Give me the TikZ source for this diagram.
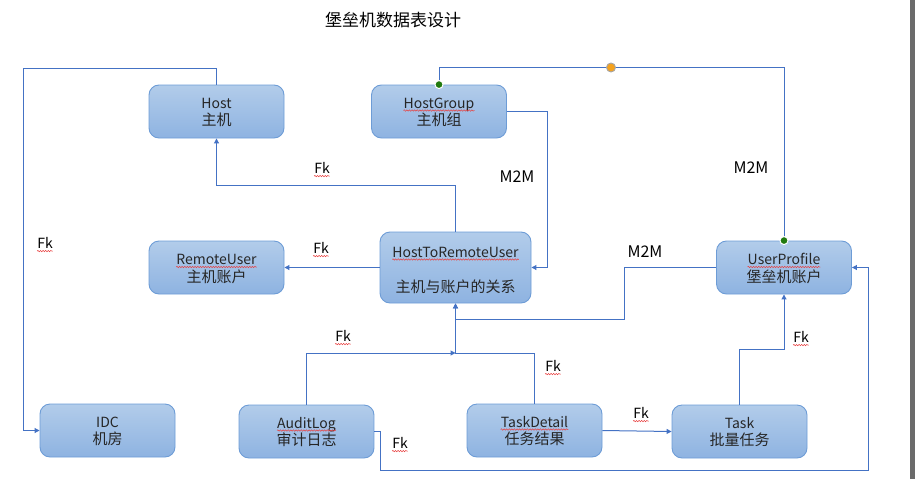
\documentclass[tikz,border=0pt]{standalone}
\usepackage{fontspec}
\setmainfont{Noto Sans CJK SC}
\usetikzlibrary{arrows.meta,decorations.pathmorphing}
\definecolor{linec}{HTML}{4472C4}
\definecolor{boxtop}{HTML}{B2CCEA}
\definecolor{boxbot}{HTML}{8EB3E1}
\definecolor{boxdraw}{HTML}{6D9CD6}
\definecolor{wavec}{HTML}{E84040}
\definecolor{dotg}{HTML}{217A0F}
\definecolor{doto}{HTML}{F4A21E}
\definecolor{graybar}{HTML}{6B6B6B}
\begin{document}
\begin{tikzpicture}[x=1pt,y=-1pt,
 tbl/.style={draw=boxdraw,line width=0.9pt,rounded corners=10pt,top color=boxtop,bottom color=boxbot,minimum width=135pt,minimum height=53pt,inner sep=0pt},
 txt/.style={inner sep=0pt,anchor=base,font=\fontsize{14}{16}\selectfont,text=black!85},
 txtc/.style={txt,font=\fontsize{15}{17}\selectfont},
 lbl/.style={inner sep=0pt,anchor=base,font=\fontsize{14}{16}\selectfont},
 conn/.style={draw=linec,line width=1pt},
 arr/.style={conn,-{Triangle[length=5pt,width=5pt]}},
 wavy/.style={draw=wavec,line width=0.5pt,decorate,decoration={snake,amplitude=0.7pt,segment length=2.6pt}},
]
\path[use as bounding box] (0,0) rectangle (915,479);
\fill[graybar] (910,0) rectangle (915,479);

% title
\node[font=\fontsize{17}{20}\selectfont] (title) at (393,20.5) {堡垒机数据表设计};

% boxes
\node[tbl] (host)  at (216.5,111.5) {};
\node[tbl] (hg)    at (439,111.5) {};
\node[tbl] (ru)    at (216.5,267.5) {};
\node[tbl,minimum width=151pt,minimum height=71pt] (htru) at (455.5,267.5) {};
\node[tbl] (up)    at (784,267.5) {};
\node[tbl] (idc)   at (107.5,430.5) {};
\node[tbl] (audit) at (306.5,431.5) {};
\node[tbl] (td)    at (534.5,430.5) {};
\node[tbl] (task)  at (739.5,431.5) {};

% box texts
\node[txt] (host1) at (216.5,108) {Host};
\node[txtc] (host2) at (216.5,125.5) {主机};
\node[txt] (hg1) at (439,108) {HostGroup};
\node[txtc] (hg2) at (439,125.5) {主机组};
\node[txt] (ru1) at (216.5,264.5) {RemoteUser};
\node[txtc] (ru2) at (216.5,282) {主机账户};
\node[txt] (htru1) at (455.5,257) {HostToRemoteUser};
\node[txtc] (htru2) at (455.5,292) {主机与账户的关系};
\node[txt] (up1) at (784,264.5) {UserProfile};
\node[txtc] (up2) at (784,282) {堡垒机账户};
\node[txt] (idc1) at (107.5,427) {IDC};
\node[txtc] (idc2) at (107.5,444.5) {机房};
\node[txt] (audit1) at (306.5,428) {AuditLog};
\node[txtc] (audit2) at (306.5,445.5) {审计日志};
\node[txt] (td1) at (534.5,427) {TaskDetail};
\node[txtc] (td2) at (534.5,444.5) {任务结果};
\node[txt] (task1) at (739.5,428) {Task};
\node[txtc] (task2) at (739.5,445.5) {批量任务};

% coordinates for bends
\coordinate (k1) at (23,68);
\coordinate (k6) at (455.5,319);
\coordinate (k7) at (455.5,353);
\coordinate (k10) at (868,470);

% connectors
\draw[arr] (host.north) |- (k1) |- (idc.west);
\draw[arr] (htru.north) -- ++(0,-46) -| (host.south);
\draw[arr] (htru.west) -- (ru.east);
\draw[arr] (hg.east) -- ++(41,0) |- (htru.east);
\draw[conn] (hg.north) -- ++(0,-17) -| (up.north);
\draw[arr] (up.west) -- ++(-92,0) |- (k6) -- (htru.south);
\draw[arr] (audit.north) |- (k7);
\draw[arr] (td.north) |- (k7) -- (htru.south);
\draw[arr] (td.east) -- (task.west);
\draw[arr] (task.north) -- ++(0,-55) -| (up.south);
\draw[arr] (audit.east) -- ++(6,0) |- (k10) |- (up.east);

% dots
\filldraw[fill=dotg,draw=white,line width=1pt] (hg.north) circle (4pt);
\filldraw[fill=dotg,draw=white,line width=1pt] (up.north) circle (4pt);
\filldraw[fill=doto,draw=gray!70,line width=0.9pt] (611,67.5) circle (4.5pt);

% labels
\node[lbl,anchor=center] (f1) at (45,243) {Fk};
\node[lbl,anchor=center] (f2) at (322,168) {Fk};
\node[lbl,anchor=center] (f3) at (321,248) {Fk};
\node[lbl,anchor=center] (f4) at (343,336) {Fk};
\node[lbl,anchor=center] (f5) at (400,443) {Fk};
\node[lbl,anchor=center] (f6) at (553,366) {Fk};
\node[lbl,anchor=center] (f7) at (641,413) {Fk};
\node[lbl,anchor=center] (f8) at (801,337) {Fk};
\node[lbl,anchor=center,font=\fontsize{16}{18}\selectfont] (m1) at (517,177) {M2M};
\node[lbl,anchor=center,font=\fontsize{16}{18}\selectfont] (m2) at (751,168) {M2M};
\node[lbl,anchor=center,font=\fontsize{16}{18}\selectfont] (m3) at (645,252) {M2M};

% spell-check wavy underlines
\foreach \w in {hg1,ru1,htru1,up1,audit1,td1,f1,f2,f3,f4,f5,f6,f7,f8}{
  \draw[wavy] ([yshift=-2.5pt]\w.base west) -- ([yshift=-2.5pt]\w.base east);
}
\end{tikzpicture}
\end{document}
